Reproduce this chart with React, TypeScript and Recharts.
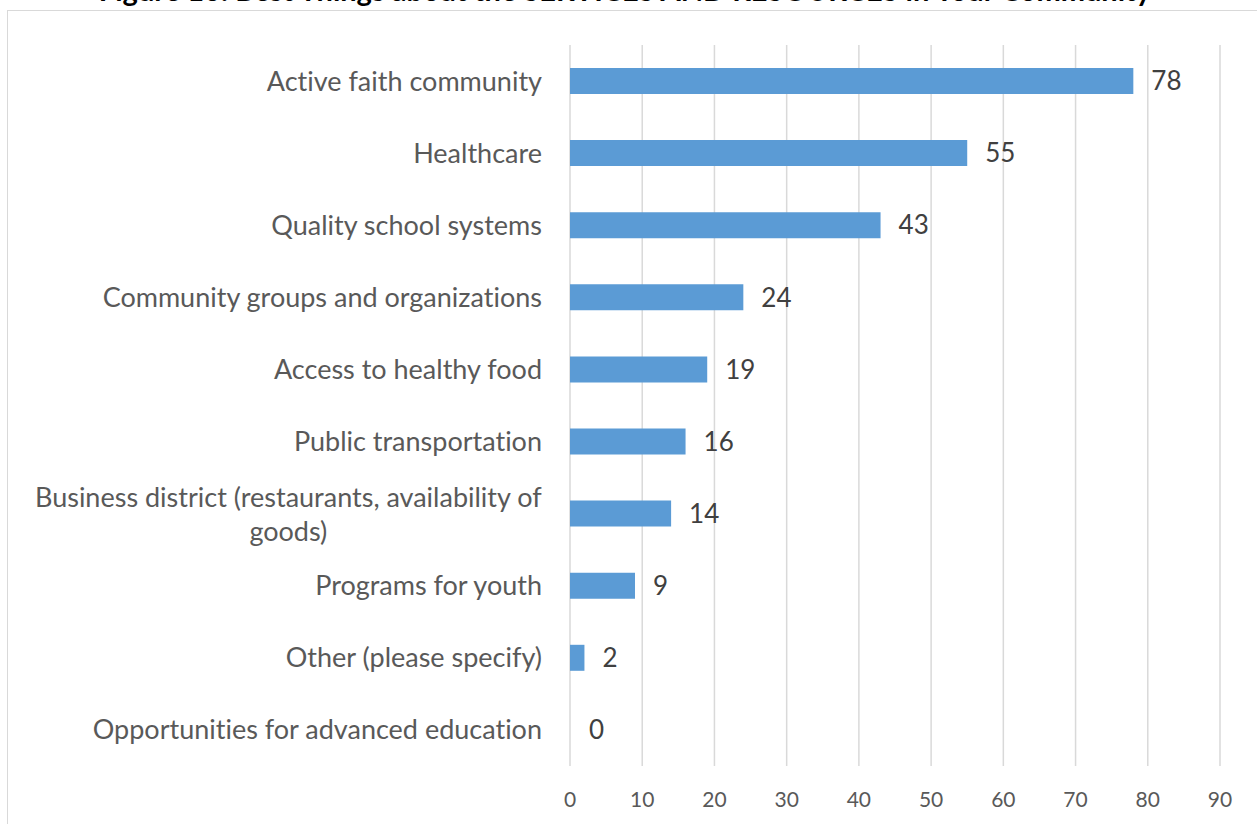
import React from "react";
import {
  BarChart,
  Bar,
  XAxis,
  YAxis,
  CartesianGrid,
  LabelList,
  Rectangle,
} from "recharts";

const TITLE =
  "Figure 16: Best Things about the SERVICES AND RESOURCES in Your Community";

const categories = [
  "Active faith community",
  "Healthcare",
  "Quality school systems",
  "Community groups and organizations",
  "Access to healthy food",
  "Public transportation",
  "Business district (restaurants, availability of goods)",
  "Programs for youth",
  "Other (please specify)",
  "Opportunities for advanced education",
];

const values = [78, 55, 43, 24, 19, 16, 14, 9, 2, 0];

const xTicks = [0, 10, 20, 30, 40, 50, 60, 70, 80, 90];

const data = categories.map((name, i) => ({ name, value: values[i] }));

const FONT = "Lato, 'Open Sans', sans-serif";
const LABEL_SIZE = 27;
const MAX_CHARS = 47;

function wrap(text: string): string[] {
  const words = text.split(" ");
  const lines: string[] = [];
  let cur = "";
  for (const w of words) {
    const next = cur ? cur + " " + w : w;
    if (next.length > MAX_CHARS && cur) {
      lines.push(cur);
      cur = w;
    } else {
      cur = next;
    }
  }
  if (cur) lines.push(cur);
  return lines;
}

let ctx: CanvasRenderingContext2D | null = null;
function measure(text: string): number {
  if (!ctx) ctx = document.createElement("canvas").getContext("2d");
  if (!ctx) return text.length * LABEL_SIZE * 0.5;
  ctx.font = `${LABEL_SIZE}px ${FONT}`;
  return ctx.measureText(text).width;
}

function CategoryTick(props: any) {
  const { x, y, payload } = props;
  const lines = wrap(String(payload.value));
  const common = {
    fill: "#595959",
    fontSize: LABEL_SIZE,
    fontFamily: FONT,
    style: { fontVariantLigatures: "none" as const },
  };
  if (lines.length === 1) {
    return (
      <text x={x} y={y} dy="0.35em" textAnchor="end" {...common}>
        {lines[0]}
      </text>
    );
  }
  const widest = Math.max(...lines.map(measure));
  const cx = x - widest / 2;
  const lh = 34;
  const start = y - ((lines.length - 1) * lh) / 2 + 1;
  return (
    <text textAnchor="middle" {...common}>
      {lines.map((l, i) => (
        <tspan key={i} x={cx} y={start + i * lh} dy="0.35em">
          {l}
        </tspan>
      ))}
    </text>
  );
}

// zero values get a 1px min bar so the label still shows; skip drawing it
function BarShape(props: any) {
  if (!props.value) return null;
  return <Rectangle {...props} />;
}

export default function App() {
  return (
    <div
      style={{
        position: "fixed",
        left: 0,
        top: 0,
        width: 1257,
        height: 824,
        overflow: "hidden",
        background: "#fff",
      }}
    >
      <div
        style={{
          position: "absolute",
          left: 7,
          top: 10,
          width: 1300,
          height: 900,
          border: "1.5px solid #D9D9D9",
        }}
      />
      <svg
        width={1257}
        height={20}
        style={{ position: "absolute", left: 0, top: 0 }}
      >
        <text
          x={625}
          y={1}
          textAnchor="middle"
          fontFamily={FONT}
          fontWeight="bold"
          fontSize={29}
          fill="#000"
        >
          {TITLE}
        </text>
      </svg>
      <div style={{ position: "absolute", left: 0, top: 0 }}>
        <BarChart
          width={1257}
          height={824}
          data={data}
          layout="vertical"
          margin={{ top: 45, right: 37, bottom: 0, left: 10 }}
        >
          <CartesianGrid
            horizontal={false}
            stroke="#D9D9D9"
            strokeWidth={1.5}
          />
          <XAxis
            type="number"
            domain={[0, 90]}
            ticks={xTicks}
            interval={0}
            axisLine={false}
            tickLine={false}
            height={58}
            tickSize={0}
            tickMargin={26}
            tick={{ fill: "#595959", fontSize: 21, fontFamily: FONT }}
          />
          <YAxis
            type="category"
            dataKey="name"
            width={560}
            axisLine={false}
            tickLine={false}
            tickSize={0}
            tickMargin={28}
            interval={0}
            tick={<CategoryTick />}
          />
          <Bar
            dataKey="value"
            fill="#5B9BD5"
            barSize={26}
            minPointSize={1}
            shape={<BarShape />}
            isAnimationActive={false}
          >
            <LabelList
              dataKey="value"
              position="right"
              offset={18}
              fill="#404040"
              fontSize={26}
              fontFamily={FONT}
            />
          </Bar>
        </BarChart>
      </div>
    </div>
  );
}
